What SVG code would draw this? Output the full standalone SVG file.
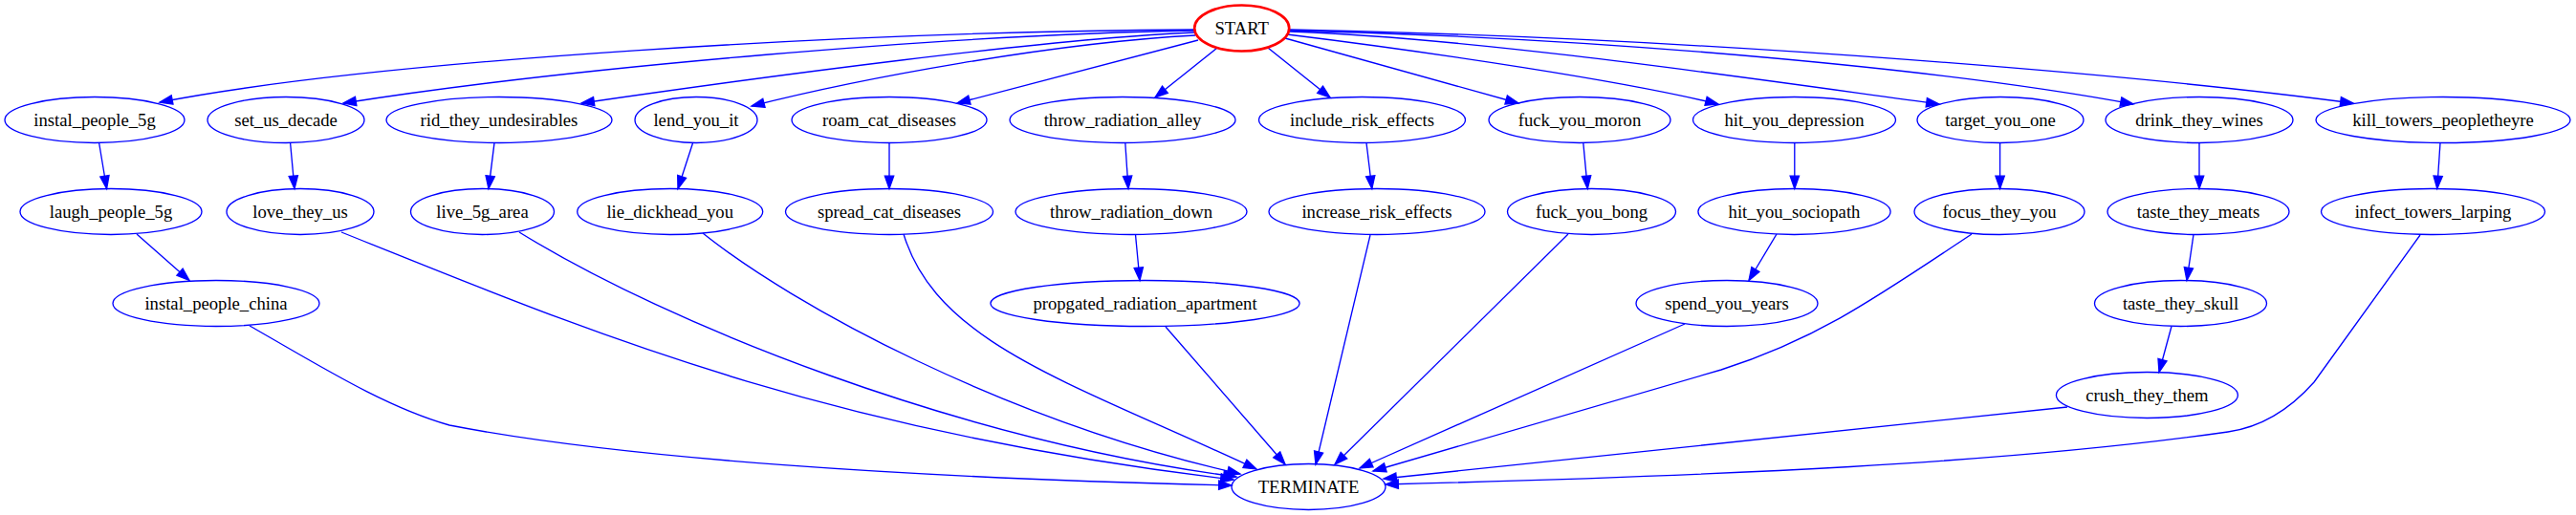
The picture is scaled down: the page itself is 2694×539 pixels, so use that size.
<svg xmlns="http://www.w3.org/2000/svg" width="2694" height="539" viewBox="0 0 2694 539">
<style>
.n ellipse{fill:none;stroke:#0000ff;stroke-width:1.33}
#START ellipse{stroke:#ff0000;stroke-width:2.67}
.n text{font-family:"Liberation Serif","Times New Roman",serif;font-size:18.67px;text-anchor:middle;fill:#000}
#edges path{fill:none;stroke:#0000ff;stroke-width:1.33;marker-end:url(#ah)}
</style>
<defs>
<marker id="ah" markerUnits="userSpaceOnUse" markerWidth="18" markerHeight="14" viewBox="-2 -2 18 14" refX="13.33" refY="4.67" orient="auto">
<path d="M0,0 L13.33,4.67 L0,9.33 z" fill="#0000ff" stroke="#0000ff" stroke-width="1.33"/>
</marker>
</defs>
<rect width="2694" height="539" fill="#fff"/>
<g id="edges">
<path d="M1250,31 C900,33 400,62 167,107"/>
<path d="M1250,32 C1000,36 600,70 359,108"/>
<path d="M1249,34 C1100,40 800,80 608,108"/>
<path d="M1250,37 C1100,45 900,82 786,111"/>
<path d="M1253,42 L1001,108"/>
<path d="M1273,50 L1208,102"/>
<path d="M1326,50 L1391,102"/>
<path d="M1344,40 L1588,108"/>
<path d="M1346,36 C1500,55 1700,85 1797,109"/>
<path d="M1349,33 C1550,40 1850,85 2028,109"/>
<path d="M1349,32 C1700,40 2050,75 2231,109"/>
<path d="M1349,31 C1800,40 2250,80 2461,108"/>
<path d="M103.6,149.5 L111.6,197.5"/>
<path d="M303.6,149.5 L308,197.5"/>
<path d="M517,149.5 L511,197.5"/>
<path d="M724.6,149.5 L709,197.5"/>
<path d="M930,149.5 L930,197.5"/>
<path d="M1176.8,149.5 L1180,197.5"/>
<path d="M1429,149.5 L1434.8,197.5"/>
<path d="M1655.8,149.5 L1660.3,197.5"/>
<path d="M1876.8,149.5 L1876.8,197.5"/>
<path d="M2091.6,149.5 L2091.6,197.5"/>
<path d="M2300,149.5 L2300,197.5"/>
<path d="M2552,149.5 L2548.8,197.5"/>
<path d="M143,245 L198,293.5"/>
<path d="M1187.5,245.5 L1192,293.5"/>
<path d="M1858,245 L1829,293.5"/>
<path d="M2294,245.5 L2287,293.5"/>
<path d="M2271,341.5 L2258,389.5"/>
<path d="M261,341 C330,380 400,425 470,445 C650,480 950,500 1288,508"/>
<path d="M357,243 C600,340 850,450 1290,502"/>
<path d="M543,243 C700,340 1000,460 1293,499"/>
<path d="M735,244 C830,320 1050,440 1297,496"/>
<path d="M945,245 C980,360 1120,400 1314,491"/>
<path d="M1219,342 L1344,486"/>
<path d="M1433,246 L1376,486"/>
<path d="M1640,245 L1396,486"/>
<path d="M1762,339 L1422,490"/>
<path d="M2062,245 C1960,313 1900,355 1800,387 L1436,493"/>
<path d="M2162,426 L1447,501"/>
<path d="M2531,246 L2420,400 Q2380,445 2330,452 C2100,485 1800,498 1449,507"/>
</g>
<g id="START" class="n"><ellipse cx="1298.7" cy="29.5" rx="49.5" ry="24"/><text x="1298.7" y="36">START</text></g>
<g id="instal_people_5g" class="n"><ellipse cx="99" cy="125.5" rx="94" ry="24"/><text x="99" y="132">instal_people_5g</text></g>
<g id="set_us_decade" class="n"><ellipse cx="299" cy="125.5" rx="82" ry="24"/><text x="299" y="132">set_us_decade</text></g>
<g id="rid_they_undesirables" class="n"><ellipse cx="522" cy="125.5" rx="118" ry="24"/><text x="522" y="132">rid_they_undesirables</text></g>
<g id="lend_you_it" class="n"><ellipse cx="728" cy="125.5" rx="64" ry="24"/><text x="728" y="132">lend_you_it</text></g>
<g id="roam_cat_diseases" class="n"><ellipse cx="930" cy="125.5" rx="102" ry="24"/><text x="930" y="132">roam_cat_diseases</text></g>
<g id="throw_radiation_alley" class="n"><ellipse cx="1174" cy="125.5" rx="118" ry="24"/><text x="1174" y="132">throw_radiation_alley</text></g>
<g id="include_risk_effects" class="n"><ellipse cx="1424.5" cy="125.5" rx="108" ry="24"/><text x="1424.5" y="132">include_risk_effects</text></g>
<g id="fuck_you_moron" class="n"><ellipse cx="1652" cy="125.5" rx="95" ry="24"/><text x="1652" y="132">fuck_you_moron</text></g>
<g id="hit_you_depression" class="n"><ellipse cx="1876.5" cy="125.5" rx="106" ry="24"/><text x="1876.5" y="132">hit_you_depression</text></g>
<g id="target_you_one" class="n"><ellipse cx="2092" cy="125.5" rx="87" ry="24"/><text x="2092" y="132">target_you_one</text></g>
<g id="drink_they_wines" class="n"><ellipse cx="2300" cy="125.5" rx="98" ry="24"/><text x="2300" y="132">drink_they_wines</text></g>
<g id="kill_towers_peopletheyre" class="n"><ellipse cx="2555" cy="125.5" rx="133" ry="24"/><text x="2555" y="132">kill_towers_peopletheyre</text></g>
<g id="laugh_people_5g" class="n"><ellipse cx="116" cy="221.5" rx="95" ry="24"/><text x="116" y="228">laugh_people_5g</text></g>
<g id="love_they_us" class="n"><ellipse cx="314" cy="221.5" rx="77" ry="24"/><text x="314" y="228">love_they_us</text></g>
<g id="live_5g_area" class="n"><ellipse cx="504.5" cy="221.5" rx="75" ry="24"/><text x="504.5" y="228">live_5g_area</text></g>
<g id="lie_dickhead_you" class="n"><ellipse cx="700.7" cy="221.5" rx="97" ry="24"/><text x="700.7" y="228">lie_dickhead_you</text></g>
<g id="spread_cat_diseases" class="n"><ellipse cx="930" cy="221.5" rx="108.5" ry="24"/><text x="930" y="228">spread_cat_diseases</text></g>
<g id="throw_radiation_down" class="n"><ellipse cx="1183" cy="221.5" rx="121" ry="24"/><text x="1183" y="228">throw_radiation_down</text></g>
<g id="increase_risk_effects" class="n"><ellipse cx="1440" cy="221.5" rx="113" ry="24"/><text x="1440" y="228">increase_risk_effects</text></g>
<g id="fuck_you_bong" class="n"><ellipse cx="1664.5" cy="221.5" rx="88" ry="24"/><text x="1664.5" y="228">fuck_you_bong</text></g>
<g id="hit_you_sociopath" class="n"><ellipse cx="1876.5" cy="221.5" rx="100.6" ry="24"/><text x="1876.5" y="228">hit_you_sociopath</text></g>
<g id="focus_they_you" class="n"><ellipse cx="2091" cy="221.5" rx="89" ry="24"/><text x="2091" y="228">focus_they_you</text></g>
<g id="taste_they_meats" class="n"><ellipse cx="2299" cy="221.5" rx="95" ry="24"/><text x="2299" y="228">taste_they_meats</text></g>
<g id="infect_towers_larping" class="n"><ellipse cx="2544.5" cy="221.5" rx="117" ry="24"/><text x="2544.5" y="228">infect_towers_larping</text></g>
<g id="instal_people_china" class="n"><ellipse cx="226" cy="317.5" rx="108" ry="24"/><text x="226" y="324">instal_people_china</text></g>
<g id="propgated_radiation_apartment" class="n"><ellipse cx="1197.5" cy="317.5" rx="161.6" ry="24"/><text x="1197.5" y="324">propgated_radiation_apartment</text></g>
<g id="spend_you_years" class="n"><ellipse cx="1806" cy="317.5" rx="95" ry="24"/><text x="1806" y="324">spend_you_years</text></g>
<g id="taste_they_skull" class="n"><ellipse cx="2280.5" cy="317.5" rx="90" ry="24"/><text x="2280.5" y="324">taste_they_skull</text></g>
<g id="crush_they_them" class="n"><ellipse cx="2245.4" cy="413.5" rx="95" ry="24"/><text x="2245.4" y="420">crush_they_them</text></g>
<g id="TERMINATE" class="n"><ellipse cx="1368.5" cy="509.5" rx="80.5" ry="24"/><text x="1368.5" y="516">TERMINATE</text></g>
</svg>
